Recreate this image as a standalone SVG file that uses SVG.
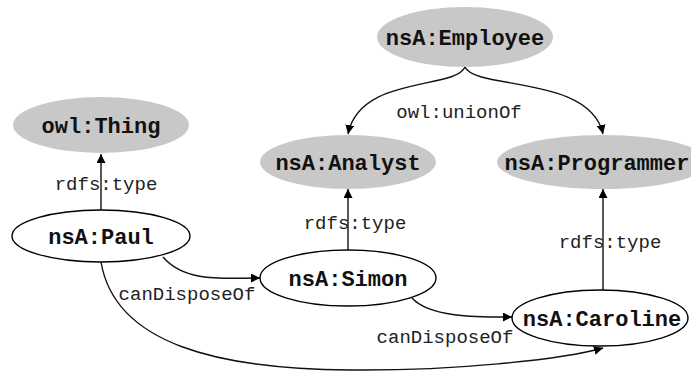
<svg xmlns="http://www.w3.org/2000/svg" width="691" height="371" viewBox="0 0 691 371">
<defs>
<marker id="arr" viewBox="0 0 10 10" refX="10" refY="5" markerWidth="9" markerHeight="9" markerUnits="userSpaceOnUse" orient="auto">
<path d="M0,0 L10,5 L0,10 z" fill="#000"/>
</marker>
<style>
.cls ellipse{fill:#c8c8c8;stroke:none}
.ind ellipse{fill:#fff;stroke:#000;stroke-width:1.4}
.nt{font-family:"Liberation Mono","Courier New",monospace;font-weight:bold;font-size:22px;fill:#111;text-anchor:middle}
.lb{font-family:"Liberation Mono","Courier New",monospace;font-size:19px;fill:#222;text-anchor:middle}
.e{fill:none;stroke:#111;stroke-width:1.4;marker-end:url(#arr)}
</style>
</defs>
<rect width="691" height="371" fill="#fff"/>
<g id="connectors">
<path class="e" d="M465,67 C455,90 360,75 348,134"/>
<path class="e" d="M465,67 C475,90 590,75 603,134"/>
<path class="e" d="M101,210 L101,154"/>
<path class="e" d="M348,250 L348,189"/>
<path class="e" d="M603,290 L603,189"/>
<path class="e" d="M163,257 C185,283 225,278 260,278"/>
<path class="e" d="M412,298 C430,318 480,317 512,317"/>
<path class="e" d="M101,262 C115,345 220,369 350,370 C450,371 560,360 603,348"/>
<text class="lb" x="459" y="118">owl:unionOf</text>
<text class="lb" x="106" y="190">rdfs:type</text>
<text class="lb" x="355" y="229">rdfs:type</text>
<text class="lb" x="610" y="248">rdfs:type</text>
<text class="lb" x="187" y="300">canDisposeOf</text>
<text class="lb" x="445" y="343">canDisposeOf</text>
</g>
<g id="employee" class="cls"><ellipse cx="465" cy="37" rx="88" ry="30"/><text class="nt" x="465" y="45">nsA:Employee</text></g>
<g id="thing" class="cls"><ellipse cx="101" cy="125" rx="88" ry="28"/><text class="nt" x="101" y="133">owl:Thing</text></g>
<g id="analyst" class="cls"><ellipse cx="348" cy="162" rx="88" ry="27"/><text class="nt" x="348" y="170">nsA:Analyst</text></g>
<g id="programmer" class="cls"><ellipse cx="603" cy="162" rx="106" ry="27"/><text class="nt" x="597" y="170">nsA:Programmer</text></g>
<g id="paul" class="ind"><ellipse cx="101" cy="236" rx="89" ry="26"/><text class="nt" x="101" y="244">nsA:Paul</text></g>
<g id="simon" class="ind"><ellipse cx="348" cy="278" rx="88" ry="28"/><text class="nt" x="348" y="286">nsA:Simon</text></g>
<g id="caroline" class="ind"><ellipse cx="600" cy="318" rx="88" ry="28"/><text class="nt" x="602" y="326">nsA:Caroline</text></g>
</svg>
